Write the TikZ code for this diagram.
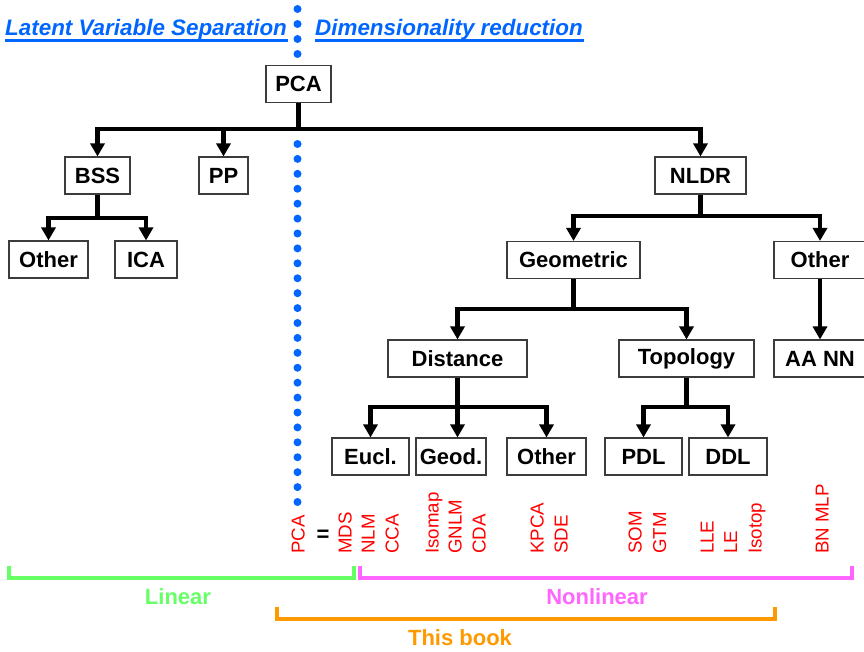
\documentclass[tikz,border=0pt]{standalone}
\usepackage{fontspec}
\setmainfont{Liberation Sans}
\usetikzlibrary{arrows.meta}
\definecolor{hdrblue}{RGB}{0,102,255}
\definecolor{lingreen}{RGB}{102,255,102}
\definecolor{nlmagenta}{RGB}{255,102,255}
\definecolor{bookorange}{RGB}{255,153,0}
\definecolor{boxedge}{RGB}{60,60,60}
\begin{document}
\begin{tikzpicture}[x=1pt,y=-1pt,
  box/.style={draw=boxedge, line width=1.1pt, fill=white, inner sep=0pt,
    minimum height=37pt, font=\fontsize{22}{26}\selectfont\bfseries},
  link/.style={line width=4.5pt, line join=miter,
    -{Triangle[length=13pt,width=14pt]}},
  plain/.style={line width=4.5pt},
  method/.style={text=red, rotate=90, anchor=base west, inner sep=0pt,
    font=\fontsize{18.7}{20}\selectfont},
  header/.style={text=hdrblue, inner sep=0pt, anchor=base west,
    font=\fontsize{22.4}{26}\selectfont\bfseries\itshape},
  uline/.style={draw=hdrblue, line width=3pt},
  brk/.style={line width=4pt},
  brklabel/.style={font=\fontsize{22}{26}\selectfont\bfseries}]
\useasboundingbox (0,0) rectangle (864,652);

% headings on both sides of the dividing line
\node[header] (hleft) at (5,36) {Latent Variable Separation};
\node[header] (hright) at (315,36) {Dimensionality reduction};
\draw[uline] ([yshift=-4.5pt]hleft.base west) -- ([yshift=-4.5pt,xshift=1pt]hleft.base east);
\draw[uline] ([yshift=-4.5pt]hright.base west) -- ([yshift=-4.5pt,xshift=1pt]hright.base east);

% dotted divider
\foreach \i in {0,...,3}
  \fill[hdrblue] (297.5,9+15*\i) circle (4pt);
\foreach \i in {0,...,24}
  \fill[hdrblue] (297.5,144+14.917*\i) circle (4pt);

% tree nodes
\node[box, minimum width=65pt] (pca) at (298.5,84) {PCA};
\node[box, minimum width=65pt] (bss) at (97.5,175.5) {BSS};
\node[box, minimum width=49pt] (pp) at (223.5,175.5) {PP};
\node[box, minimum width=91pt] (nldr) at (700.5,175.5) {NLDR};
\node[box, minimum width=79pt] (othbss) at (48.5,259.5) {Other};
\node[box, minimum width=62pt] (ica) at (146,259.5) {ICA};
\node[box, minimum width=133pt] (geo) at (573.5,260) {Geometric};
\node[box, minimum width=92pt] (othnl) at (820,260) {Other};
\node[box, minimum width=139pt] (dist) at (457.5,358.5) {Distance};
\node[box, minimum width=135pt] (topo) at (686.5,358.5) {Topology};
\node[box, minimum width=92pt] (aann) at (820,358.5) {AA NN};
\node[box, minimum width=77pt] (eucl) at (370.5,456.5) {Eucl.};
\node[box, minimum width=70pt] (geod) at (451,456.5) {Geod.};
\node[box, minimum width=79pt] (othd) at (546.5,456.5) {Other};
\node[box, minimum width=77pt] (pdl) at (643.5,456.5) {PDL};
\node[box, minimum width=78pt] (ddl) at (728,456.5) {DDL};

% branching points
\coordinate (jpca) at (298.5,129);
\coordinate (jbss) at (97.5,218);
\coordinate (jnldr) at (700.5,216);
\coordinate (jgeo) at (573.5,309);
\coordinate (jdist) at (457.5,407);
\coordinate (jtopo) at (686.5,407);

% connectors
\draw[plain] (pca.south) -- (jpca);
\draw[link] (jpca) -| (bss.north);
\draw[link] (jpca) -| (pp.north);
\draw[link] (jpca) -| (nldr.north);

\draw[plain] (bss.south) -- (jbss);
\draw[link] (jbss) -| (othbss.north);
\draw[link] (jbss) -| (ica.north);

\draw[plain] (nldr.south) -- (jnldr);
\draw[link] (jnldr) -| (geo.north);
\draw[link] (jnldr) -| (othnl.north);

\draw[link] (othnl.south) -- (aann.north);

\draw[plain] (geo.south) -- (jgeo);
\draw[link] (jgeo) -| (dist.north);
\draw[link] (jgeo) -| (topo.north);

\draw[plain] (dist.south) -- (jdist);
\draw[link] (jdist) -| (eucl.north);
\draw[link] (jdist) -- (jdist |- geod.north);
\draw[link] (jdist) -| (othd.north);

\draw[plain] (topo.south) -- (jtopo);
\draw[link] (jtopo) -| (pdl.north);
\draw[link] (jtopo) -| (ddl.north);

% method names
\node[method] (mpca) at (304.5,554) {PCA};
\node[font=\fontsize{22}{26}\selectfont\bfseries] (eq) at (323,536) {=};
\node[method] (mmds) at (351.5,554) {MDS};
\node[method] (mnlm) at (374.5,554) {NLM};
\node[method] (mcca) at (398.5,554) {CCA};
\node[method] (miso) at (438.5,554) {Isomap};
\node[method] (mgnlm) at (461.5,554) {GNLM};
\node[method] (mcda) at (485.5,554) {CDA};
\node[method] (mkpca) at (543.5,554) {KPCA};
\node[method] (msde) at (567.5,554) {SDE};
\node[method] (msom) at (641.5,554) {SOM};
\node[method] (mgtm) at (666,554) {GTM};
\node[method] (mlle) at (713.5,554) {LLE};
\node[method] (mle) at (737,554) {LE};
\node[method] (misotop) at (761.5,554) {Isotop};
\node[method] (mbn) at (828.5,554) {BN MLP};

% brackets
\draw[brk, lingreen] (9,566) -- (9,578) -- (354,578) -- (354,566);
\draw[brk, nlmagenta] (360,566) -- (360,578) -- (852,578) -- (852,566);
\draw[brk, bookorange] (277,607) -- (277,619) -- (775,619) -- (775,607);
\node[brklabel, text=lingreen] (llin) at (178,597) {Linear};
\node[brklabel, text=nlmagenta] (lnl) at (597,597) {Nonlinear};
\node[brklabel, text=bookorange] (lbook) at (460,638) {This book};
\end{tikzpicture}
\end{document}
